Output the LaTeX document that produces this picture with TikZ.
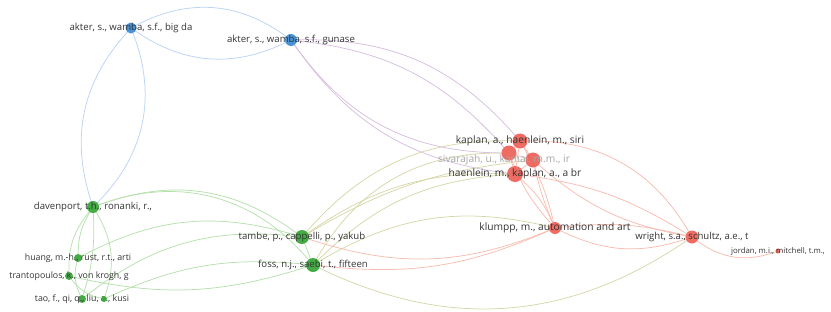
\documentclass[tikz,border=0pt]{standalone}
\usepackage{fontspec}
\setmainfont{Open Sans}
\usetikzlibrary{backgrounds}
\definecolor{vosblue}{RGB}{62,140,214}
\definecolor{vosgreen}{RGB}{58,168,58}
\definecolor{vosred}{RGB}{236,92,82}
\definecolor{linkblue}{RGB}{188,211,246}
\definecolor{linkgreen}{RGB}{182,224,172}
\definecolor{linkred}{RGB}{248,188,176}
\definecolor{linkpurple}{RGB}{214,190,222}
\definecolor{linkolive}{RGB}{214,214,168}
\definecolor{labeltext}{RGB}{52,52,52}
\begin{document}
\begin{tikzpicture}[x=1pt,y=-1pt,
  item/.style={circle,inner sep=0pt,outer sep=0pt,minimum size=#1},
  blueitem/.style={item=#1,fill=vosblue,fill opacity=0.95},
  greenitem/.style={item=#1,fill=vosgreen,fill opacity=0.95},
  reditem/.style={item=#1,fill=vosred,fill opacity=0.9},
  every label/.style={text=labeltext,inner sep=0pt},
  small/.style={font=\fontsize{8.8}{9}\selectfont},
  medium/.style={font=\fontsize{9.6}{10}\selectfont},
  large/.style={font=\fontsize{10.2}{11}\selectfont},
  tiny/.style={font=\fontsize{7.8}{8}\selectfont},
  lb/.style={draw=linkblue,line width=0.75pt},
  lg/.style={draw=linkgreen,line width=0.75pt},
  lr/.style={draw=linkred,line width=0.75pt},
  lp/.style={draw=linkpurple,line width=0.75pt},
  lo/.style={draw=linkolive,line width=0.75pt}]
\useasboundingbox (0,0) rectangle (831,311);

% blue cluster
\node[blueitem=11,label={[medium]center:{akter, s., wamba, s.f., big da}}] (akterA) at (131,28) {};
\node[blueitem=12,label={[medium]center:{akter, s., wamba, s.f., gunase}}] (akterB) at (291,40) {};

% red cluster
\node[reditem=15] (sivA) at (509,153) {};
\node[reditem=15] (sivB) at (533,160) {};
\node[reditem=15,label={[large]center:{kaplan, a., haenlein, m., siri}}] (kaplan) at (520,141) {};
\node[reditem=16,label={[large]center:{haenlein, m., kaplan, a., a br}}] (haenlein) at (515,174) {};
\node at (504,160) [text=gray!70,font=\fontsize{10.2}{11}\selectfont,inner sep=0pt] (sivlabel) {sivarajah, u., kamal, m.m., ir};
\node[reditem=12,label={[large]center:{klumpp, m., automation and art}}] (klumpp) at (555,228) {};
\node[reditem=13,label={[medium]center:{wright, s.a., schultz, a.e., t}}] (wright) at (692,237) {};
\node[reditem=5,label={[tiny]center:{jordan, m.i., mitchell, t.m.,}}] (jordan) at (778,251) {};

% green cluster
\node[greenitem=12,label={[medium]center:{davenport, t.h., ronanki, r.,}}] (davenport) at (93,207) {};
\node[greenitem=14,label={[medium]center:{tambe, p., cappelli, p., yakub}}] (tambe) at (302,237) {};
\node[greenitem=14,label={[medium]center:{foss, n.j., saebi, t., fifteen}}] (foss) at (313,265) {};
\node[greenitem=8,label={[small]center:{huang, m.-h., rust, r.t., arti}}] (huang) at (78,258) {};
\node[greenitem=8,label={[small]center:{trantopoulos, k., von krogh, g}}] (tranto) at (69,276) {};
\node[greenitem=8,label={[small]center:{tao, f., qi, q., liu, a., kusi}}] (tao) at (82,299) {};
\node[greenitem=6] (taoB) at (104,299) {};

\begin{scope}[on background layer]
% links
\draw[lb] (akterA) to[bend left=32] (akterB);
\draw[lb] (akterA) to[bend right=30] (akterB);
\draw[lb] (akterA) to[bend right=30] (davenport);
\draw[lb] (akterA) to[bend left=33] (davenport);
\draw[lp] (akterB) to[bend left=25] (kaplan);
\draw[lp] (akterB) to[bend left=21] (sivA);
\draw[lp] (akterB) to[bend right=27] (sivA);
\draw[lp] (akterB) to[bend right=24] (haenlein);
\draw[lg] (davenport) to[bend right=15] (huang);
\draw[lg] (davenport) to[bend right=20] (tranto);
\draw[lg] (davenport) to[bend left=10] (tao);
\draw[lg] (davenport) to[bend left=25] (taoB);
\draw[lg] (huang) to[bend right=20] (tao);
\draw[lg] (tranto) to[bend right=20] (taoB);
\draw[lg] (davenport) to[bend left=28] (tambe);
\draw[lg] (davenport) to[bend left=35] (foss);
\draw[lg] (huang) to[bend left=22] (tambe);
\draw[lg] (tranto) to[bend right=15] (foss);
\draw[lg] (tao) to[bend left=22] (tambe);
\draw[lg] (taoB) to[bend left=15] (foss);
\draw[lg] (tambe) -- (foss);
\draw[lo] (tambe) to[bend left=25] (kaplan);
\draw[lo] (tambe) to[bend left=18] (haenlein);
\draw[lo] (foss) to[bend left=30] (sivA);
\draw[lo] (foss) to[bend left=20] (haenlein);
\draw[lo] (foss) to[bend left=22] (klumpp);
\draw[lo] (tambe) to[bend left=12] (sivB);
\draw[lo] (foss) to[bend right=30] (wright);
\draw[lr] (klumpp) to[bend left=20] (tambe);
\draw[lr] (klumpp) to[bend left=15] (foss);
\draw[lr] (kaplan) -- (sivA) -- (haenlein) -- (sivB) -- (kaplan) -- (haenlein);
\draw[lr] (sivA) -- (sivB);
\draw[lr] (kaplan) to[bend left=8] (klumpp);
\draw[lr] (sivA) to[bend right=10] (klumpp);
\draw[lr] (sivB) to[bend right=5] (klumpp);
\draw[lr] (haenlein) to[bend left=12] (klumpp);
\draw[lr] (kaplan) to[bend left=30] (wright);
\draw[lr] (haenlein) to[bend left=12] (wright);
\draw[lr] (sivB) to[bend right=15] (wright);
\draw[lr] (klumpp) to[bend left=10] (wright);
\draw[lr] (klumpp) to[bend right=22] (wright);
\draw[lr] (wright) to[bend right=28] (jordan);
\end{scope}
\end{tikzpicture}
\end{document}
